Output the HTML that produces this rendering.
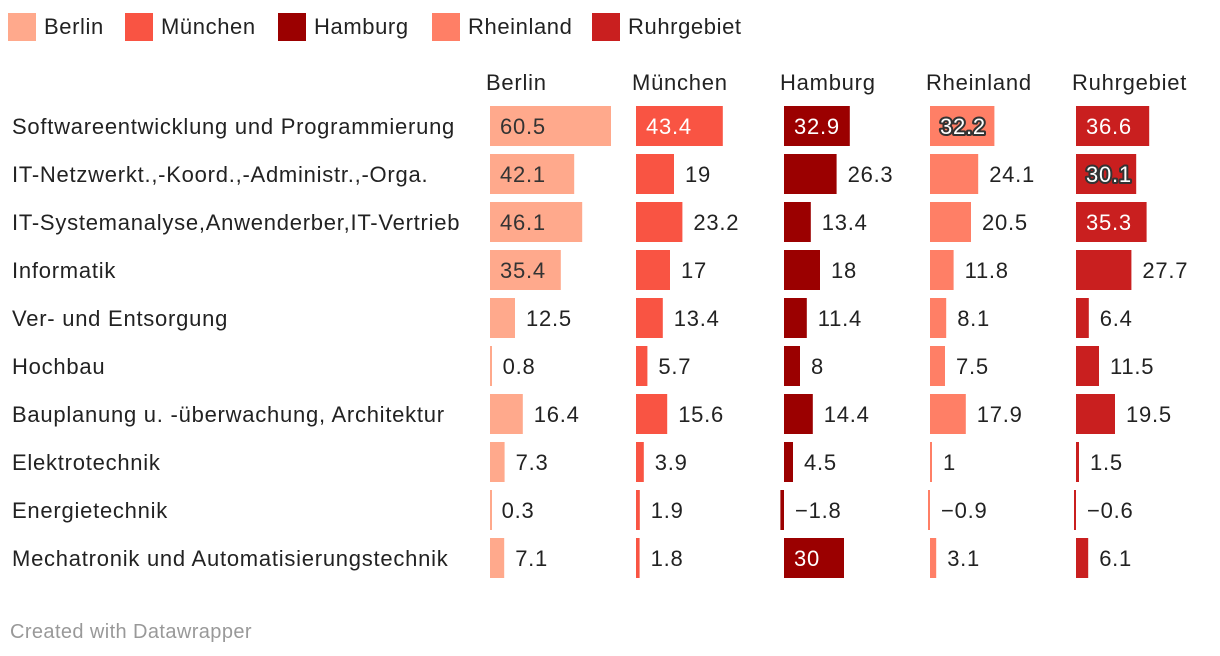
<!DOCTYPE html>
<html><head><meta charset="utf-8"><style>
body{margin:0;width:1220px;height:656px;background:#fff;font-family:"Liberation Sans",sans-serif;overflow:hidden;position:relative;color:#222}
.lg{position:absolute;top:12px;height:30px;display:flex;align-items:center;font-size:22px;letter-spacing:0.6px}
.lg span.sw{display:inline-block;width:28px;height:28px;margin-right:8px}
text{letter-spacing:0.75px}
</style></head><body>
<div id="legend"></div>
<svg id="chart" width="1220" height="656" style="position:absolute;left:0;top:0"></svg>
<script>
const categories=["Softwareentwicklung und Programmierung","IT-Netzwerkt.,-Koord.,-Administr.,-Orga.","IT-Systemanalyse,Anwenderber,IT-Vertrieb","Informatik","Ver- und Entsorgung","Hochbau","Bauplanung u. -überwachung, Architektur","Elektrotechnik","Energietechnik","Mechatronik und Automatisierungstechnik"];
const series=["Berlin","München","Hamburg","Rheinland","Ruhrgebiet"];
const berlin=[60.5,42.1,46.1,35.4,12.5,0.8,16.4,7.3,0.3,7.1];
const muenchen=[43.4,19,23.2,17,13.4,5.7,15.6,3.9,1.9,1.8];
const hamburg=[32.9,26.3,13.4,18,11.4,8,14.4,4.5,-1.8,30];
const rheinland=[32.2,24.1,20.5,11.8,8.1,7.5,17.9,1,-0.9,3.1];
const ruhr=[36.6,30.1,35.3,27.7,6.4,11.5,19.5,1.5,-0.6,6.1];
const values=[berlin,muenchen,hamburg,rheinland,ruhr];
const colors=["#ffa98c","#f95443","#9b0000","#ff7f66","#c91f1f"];
const colX=[490,636,784,930,1076];
const legX=[8,125,278,432,592];
const NS="http://www.w3.org/2000/svg";
const svg=document.getElementById('chart');
const x=v=>v*2.0;
const y=i=>106+i*48;
function t(px,py,s,opts){const e=document.createElementNS(NS,'text');e.setAttribute('x',px);e.setAttribute('y',py);e.setAttribute('font-size',opts.size||22);e.setAttribute('fill',opts.fill||'#222');if(opts.anchor)e.setAttribute('text-anchor',opts.anchor);if(opts.stroke){e.setAttribute('stroke',opts.stroke);e.setAttribute('stroke-width','4');e.setAttribute('paint-order','stroke');e.setAttribute('stroke-linejoin','round');}e.textContent=s;svg.appendChild(e);return e;}
const lg=document.getElementById('legend');
series.forEach((s,k)=>{const d=document.createElement('div');d.className='lg';d.style.left=legX[k]+'px';


d.innerHTML='<span class="sw" style="background:'+colors[k]+'"></span>'+s;lg.appendChild(d);
const h=t(colX[k]-4,90,s,{});


});
categories.forEach((c,i)=>{const l=t(12,134,c,{});l.setAttribute('y',y(i)+28);


values.forEach((arr,k)=>{const v=arr[i];const z=colX[k];const w=Math.max(x(Math.abs(v)),2);
const r=document.createElementNS(NS,'rect');r.setAttribute('x',v<0?z-w:z);r.setAttribute('y',y(i));r.setAttribute('width',w);r.setAttribute('height',40);r.setAttribute('fill',colors[k]);


svg.appendChild(r);
const s=String(v).replace('-','−');let lb;
if(v>=29.5){let o={};if(k===0)o.fill='#333';else if(k===3||(k===4&&v<31)){o.fill='#fff';o.stroke='#333';}else o.fill='#fff';lb=t(z+10,y(i)+28,s,o);}
else lb=t(z+Math.max(x(v),0)+11,y(i)+28,s,{});


});});
const f=t(10,638,'Created with Datawrapper',{size:20,fill:'#999'});
f.style.letterSpacing='0.4px';


</script>
</body></html>
